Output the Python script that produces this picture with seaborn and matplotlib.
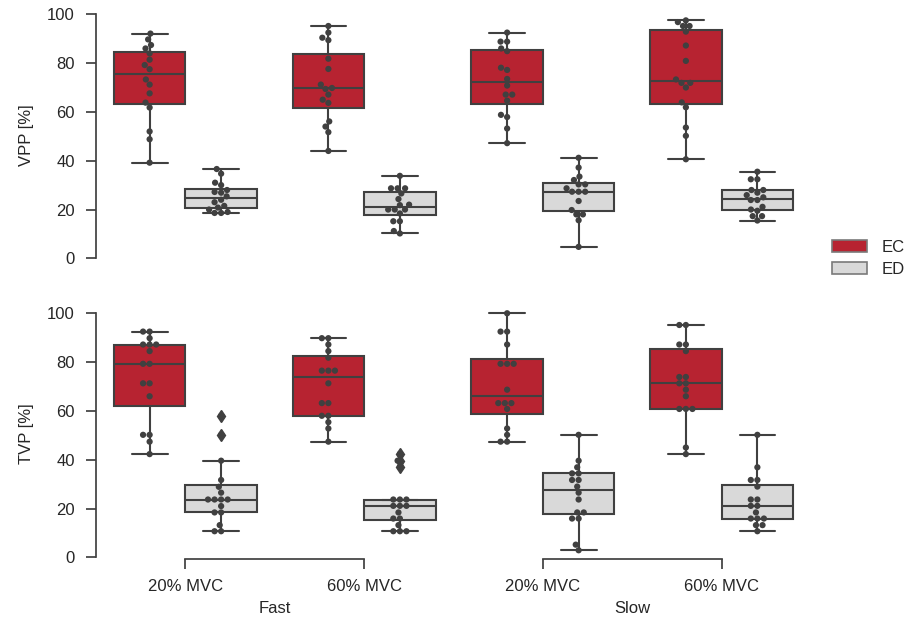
import numpy as np
import pandas as pd
import matplotlib.pyplot as plt
import seaborn as sns
from matplotlib.patches import Patch

# categories
measures = ['VPP', 'TVP']
speeds = ['Fast', 'Slow']
levels = ['20% MVC', '60% MVC']
groups = ['EC', 'ED']

# values (16 subjects per group)
vpp_fast20_ec = [92.1, 89.7, 87.4, 86.0, 84.0, 81.4, 79.2, 77.5, 73.3, 71.2, 67.6, 63.8, 61.8, 52.0, 48.8, 39.2]
vpp_fast20_ed = [36.6, 34.7, 31.0, 30.0, 28.0, 27.2, 26.9, 25.4, 24.0, 23.0, 21.5, 20.8, 20.0, 19.0, 18.6, 18.6]
vpp_fast60_ec = [95.2, 92.5, 90.4, 89.4, 81.8, 77.6, 71.2, 69.8, 69.4, 67.1, 65.0, 63.7, 56.1, 54.0, 51.7, 44.0]
vpp_fast60_ed = [33.8, 28.7, 28.7, 28.7, 26.6, 24.3, 22.0, 21.8, 20.0, 20.0, 20.0, 18.4, 15.2, 15.2, 11.2, 10.2]
vpp_slow20_ec = [92.5, 88.8, 88.8, 86.0, 84.9, 78.1, 77.2, 73.5, 70.8, 67.1, 67.1, 64.6, 58.8, 57.9, 53.2, 47.2]
vpp_slow20_ed = [41.2, 37.2, 33.5, 32.1, 30.3, 30.3, 28.7, 27.3, 27.3, 27.3, 23.5, 19.8, 18.0, 18.0, 15.6, 4.7]
vpp_slow60_ec = [97.5, 96.8, 95.2, 95.2, 92.9, 87.2, 80.9, 73.3, 71.9, 71.9, 70.0, 63.9, 61.9, 53.6, 50.2, 40.6]
vpp_slow60_ed = [35.5, 32.4, 32.4, 28.0, 28.0, 26.9, 25.9, 25.0, 23.9, 23.9, 21.1, 20.0, 19.5, 17.3, 17.3, 15.5]

tvp_fast20_ec = [92.5, 92.5, 89.8, 87.2, 87.2, 87.2, 84.5, 79.3, 79.3, 71.3, 71.3, 66.0, 50.2, 50.2, 47.4, 42.3]
tvp_fast20_ed = [58.0, 50.2, 39.6, 31.7, 28.9, 26.5, 23.7, 23.7, 23.7, 23.7, 21.0, 18.4, 18.4, 13.2, 10.7, 10.7]
tvp_fast60_ec = [89.8, 89.8, 87.2, 84.5, 81.8, 76.5, 76.5, 76.5, 71.3, 63.2, 63.2, 58.0, 58.0, 55.4, 52.8, 47.4]
tvp_fast60_ed = [42.4, 39.6, 37.2, 23.7, 23.7, 23.7, 21.1, 21.1, 21.1, 18.4, 15.9, 15.9, 13.2, 10.7, 10.7, 10.7]
tvp_slow20_ec = [100.0, 92.5, 92.5, 87.2, 79.3, 79.3, 79.3, 68.7, 63.2, 63.2, 63.2, 60.8, 52.8, 50.2, 47.4, 47.4]
tvp_slow20_ed = [50.2, 39.6, 36.9, 34.4, 34.4, 31.7, 31.7, 29.0, 26.5, 23.7, 18.4, 18.4, 15.9, 15.9, 5.2, 2.9]
tvp_slow60_ec = [95.2, 95.2, 87.2, 87.2, 84.5, 73.9, 73.9, 71.3, 71.3, 68.7, 66.0, 60.8, 60.8, 60.8, 45.0, 42.3]
tvp_slow60_ed = [50.2, 36.9, 31.7, 31.7, 29.0, 23.7, 23.7, 21.1, 21.1, 18.4, 15.9, 15.9, 15.9, 13.2, 13.2, 10.7]

yticks = [0, 20, 40, 60, 80, 100]

series = {
    ('VPP', 'Fast', '20% MVC', 'EC'): vpp_fast20_ec,
    ('VPP', 'Fast', '20% MVC', 'ED'): vpp_fast20_ed,
    ('VPP', 'Fast', '60% MVC', 'EC'): vpp_fast60_ec,
    ('VPP', 'Fast', '60% MVC', 'ED'): vpp_fast60_ed,
    ('VPP', 'Slow', '20% MVC', 'EC'): vpp_slow20_ec,
    ('VPP', 'Slow', '20% MVC', 'ED'): vpp_slow20_ed,
    ('VPP', 'Slow', '60% MVC', 'EC'): vpp_slow60_ec,
    ('VPP', 'Slow', '60% MVC', 'ED'): vpp_slow60_ed,
    ('TVP', 'Fast', '20% MVC', 'EC'): tvp_fast20_ec,
    ('TVP', 'Fast', '20% MVC', 'ED'): tvp_fast20_ed,
    ('TVP', 'Fast', '60% MVC', 'EC'): tvp_fast60_ec,
    ('TVP', 'Fast', '60% MVC', 'ED'): tvp_fast60_ed,
    ('TVP', 'Slow', '20% MVC', 'EC'): tvp_slow20_ec,
    ('TVP', 'Slow', '20% MVC', 'ED'): tvp_slow20_ed,
    ('TVP', 'Slow', '60% MVC', 'EC'): tvp_slow60_ec,
    ('TVP', 'Slow', '60% MVC', 'ED'): tvp_slow60_ed,
}
rows = []
for key, vals in series.items():
    for v in vals:
        rows.append((*key, v))
df = pd.DataFrame(rows, columns=['measure', 'speed', 'level', 'group', 'value'])

sns.set_theme(style='ticks')
plt.rcParams['font.family'] = ['Liberation Sans', 'DejaVu Sans']
plt.rcParams['font.size'] = 12

box_colors = {'EC': '#b72331', 'ED': '#d9d9d9'}
line = '#404040'

fig = plt.figure(figsize=(9.08, 6.22), dpi=100)
W, H = 908, 622
col_x = [96, 453.5]
col_w = 357.5
row_y = [(9.4, 260.3), (308.4, 559.3)]

for i, m in enumerate(measures):
    for j, s in enumerate(speeds):
        top, bot = row_y[i]
        ax = fig.add_axes([col_x[j] / W, (H - bot) / H, col_w / W, (bot - top) / H])
        sub = df[(df.measure == m) & (df.speed == s)]
        sns.boxplot(data=sub, x='level', y='value', hue='group', order=levels,
                    hue_order=groups, palette=box_colors, saturation=1,
                    linecolor=line, linewidth=1.5, width=0.8, fliersize=6,
                    flierprops={'marker': 'd', 'markerfacecolor': line,
                                'markeredgecolor': line},
                    legend=False, ax=ax)
        sns.swarmplot(data=sub, x='level', y='value', hue='group', order=levels,
                      hue_order=groups, dodge=True,
                      palette={g: line for g in groups}, size=4.5,
                      legend=False, ax=ax)
        ax.set_xlim(-0.5, 1.5)
        ax.set_ylim(-0.8, 102)
        ax.set_yticks(yticks)
        for side in ['top', 'right']:
            ax.spines[side].set_visible(False)
        for sp in ax.spines.values():
            sp.set_linewidth(1.25)
            sp.set_color(line)
        ax.tick_params(length=7.2, width=1.25, color=line, labelsize=12,
                       labelcolor='#262626')
        ax.tick_params(axis='x', pad=7)
        ax.tick_params(axis='y', pad=8)
        if j == 0:
            ax.spines['left'].set_bounds(0, 100)
            ax.set_ylabel(f'{m} [%]', fontsize=12, color='#262626')
            ax.yaxis.set_label_coords(-0.1734, 0.5)
        else:
            ax.spines['left'].set_visible(False)
            ax.tick_params(left=False, labelleft=False)
            ax.set_ylabel('')
        if i == 0:
            ax.spines['bottom'].set_visible(False)
            ax.tick_params(bottom=False, labelbottom=False)
            ax.set_xlabel('')
        else:
            ax.spines['bottom'].set_bounds(0, 1)
            ax.set_xlabel(s, fontsize=12, color='#262626')
            ax.xaxis.set_label_coords(0.5, -0.166)

handles = [Patch(facecolor=box_colors[g], edgecolor='#7a7a7a', linewidth=1.2, label=g)
           for g in groups]
fig.legend(handles=handles, loc='center left', bbox_to_anchor=(0.916, 0.5847),
           frameon=False, borderpad=0, borderaxespad=0, handlelength=2.13,
           handleheight=0.78, handletextpad=0.85, labelspacing=0.4, fontsize=12)

fig.savefig('out.png', dpi=100)
